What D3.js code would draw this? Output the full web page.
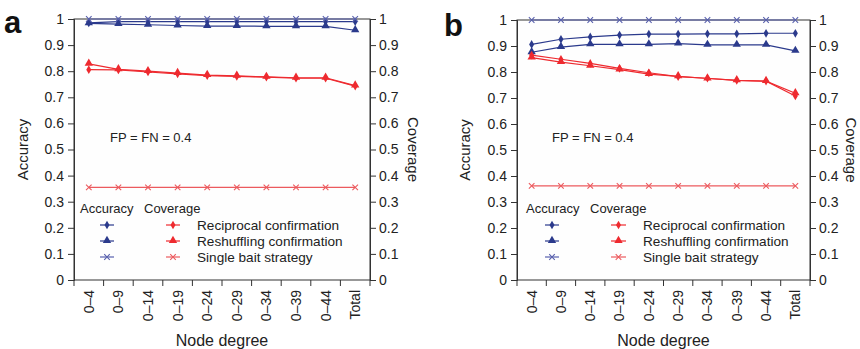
<!DOCTYPE html>
<html>
<head>
<meta charset="utf-8">
<script src="https://cdn.jsdelivr.net/npm/d3@7"></script>
<style>
  body { margin: 0; background: #fff; }
  svg { display: block; font-family: "Liberation Sans", Arial, Helvetica, sans-serif; }
</style>
</head>
<body>
<svg id="chart" width="860" height="349"></svg>
<script>
// ---- Data ----
const categories = ["0\u20134", "0\u20139", "0\u201314", "0\u201319", "0\u201324", "0\u201329", "0\u201334", "0\u201339", "0\u201344", "Total"];
const yTicks = [0, 0.1, 0.2, 0.3, 0.4, 0.5, 0.6, 0.7, 0.8, 0.9, 1];
const yTickLabels = ["0", "0.1", "0.2", "0.3", "0.4", "0.5", "0.6", "0.7", "0.8", "0.9", "1"];

// Panel a
const aAccReciprocal = [0.985, 0.990, 0.990, 0.990, 0.990, 0.990, 0.990, 0.990, 0.990, 0.990];
const aAccReshuffling = [0.983, 0.980, 0.978, 0.975, 0.973, 0.973, 0.972, 0.972, 0.972, 0.957];
const aAccSingle = [1, 1, 1, 1, 1, 1, 1, 1, 1, 1];
const aCovReciprocal = [0.806, 0.805, 0.797, 0.790, 0.783, 0.780, 0.777, 0.773, 0.773, 0.743];
const aCovReshuffling = [0.828, 0.807, 0.800, 0.793, 0.785, 0.782, 0.778, 0.775, 0.775, 0.745];
const aCovSingle = [0.355, 0.355, 0.355, 0.355, 0.355, 0.355, 0.355, 0.355, 0.355, 0.355];

// Panel b
const bAccReciprocal = [0.906, 0.926, 0.935, 0.942, 0.946, 0.946, 0.947, 0.947, 0.949, 0.949];
const bAccReshuffling = [0.876, 0.896, 0.906, 0.906, 0.906, 0.909, 0.904, 0.904, 0.904, 0.881];
const bAccSingle = [1, 1, 1, 1, 1, 1, 1, 1, 1, 1];
const bCovReciprocal = [0.865, 0.849, 0.833, 0.814, 0.797, 0.782, 0.776, 0.768, 0.765, 0.708];
const bCovReshuffling = [0.855, 0.838, 0.824, 0.809, 0.792, 0.783, 0.775, 0.768, 0.765, 0.718];
const bCovSingle = [0.362, 0.362, 0.362, 0.362, 0.362, 0.362, 0.362, 0.362, 0.362, 0.362];

const legendLabels = ["Reciprocal confirmation", "Reshuffling confirmation", "Single bait strategy"];
const annotation = "FP = FN = 0.4";

// ---- Styles ----
const BLUE = "#2b3a8c", BLUE_LIGHT = "#5860ad";
const RED = "#ee2a2f", RED_LIGHT = "#ec5a5e";
const AXIS = "#333";

const svg = d3.select("#chart");

const panels = [
  { label: "a", x0: 74, x1: 370, y0: 280, y1: 19,
    acc: [aAccReciprocal, aAccReshuffling, aAccSingle],
    cov: [aCovReciprocal, aCovReshuffling, aCovSingle],
    labelX: 4, labelY: 33, annX: 110, annY: 142,
    legAccX: 80, legCovX: 144, legBlue: [100, 114], legRed: [166, 180], legTextX: 197,
    yTitleX: 23, rTitleX: 413 },
  { label: "b", x0: 517, x1: 810, y0: 280, y1: 20,
    acc: [bAccReciprocal, bAccReshuffling, bAccSingle],
    cov: [bCovReciprocal, bCovReshuffling, bCovSingle],
    labelX: 444, labelY: 36, annX: 552, annY: 142,
    legAccX: 526, legCovX: 590, legBlue: [545, 559], legRed: [611, 626], legTextX: 643,
    yTitleX: 465, rTitleX: 851 }
];

function drawMarker(g, type, x, y, color) {
  if (type === 0) {
    g.append("path").attr("d", d3.symbol(d3.symbolDiamond, 22)())
      .attr("transform", `translate(${x},${y})`).attr("fill", color);
  } else if (type === 1) {
    g.append("path").attr("d", d3.symbol(d3.symbolTriangle, 30)())
      .attr("transform", `translate(${x},${y - 0.5})`).attr("fill", color);
  } else {
    g.append("path").attr("d", d3.symbol(d3.symbolX, 22)())
      .attr("transform", `translate(${x},${y})`).attr("fill", "none")
      .attr("stroke", color).attr("stroke-width", 1.1);
  }
}

panels.forEach(p => {
  const g = svg.append("g");
  const x = d3.scaleBand().domain(categories).range([p.x0, p.x1]).padding(0);
  const y = d3.scaleLinear().domain([0, 1]).range([p.y0, p.y1]);
  const cx = c => x(c) + x.bandwidth() / 2;

  // frame
  g.append("rect").attr("x", p.x0).attr("y", p.y1).attr("width", p.x1 - p.x0).attr("height", p.y0 - p.y1)
    .attr("fill", "#fefefe").attr("stroke", AXIS).attr("stroke-width", 1);

  // left axis
  const left = g.append("g").attr("transform", `translate(${p.x0},0)`)
    .call(d3.axisLeft(y).tickValues(yTicks).tickFormat((d, i) => yTickLabels[i]).tickSize(6).tickPadding(4));
  left.select(".domain").attr("stroke", AXIS);
  left.selectAll("line").attr("stroke", AXIS);
  left.selectAll("text").attr("font-size", 14).attr("fill", "#222")
    .attr("font-family", "Liberation Sans, Arial, sans-serif");

  // right axis
  const right = g.append("g").attr("transform", `translate(${p.x1},0)`)
    .call(d3.axisRight(y).tickValues(yTicks).tickFormat((d, i) => yTickLabels[i]).tickSize(6).tickPadding(3));
  right.select(".domain").attr("stroke", AXIS);
  right.selectAll("line").attr("stroke", AXIS);
  right.selectAll("text").attr("font-size", 14).attr("fill", "#222")
    .attr("font-family", "Liberation Sans, Arial, sans-serif");

  // bottom ticks at band edges
  const edges = categories.map(c => x(c)).concat([p.x1]);
  g.selectAll(".xt").data(edges).enter().append("line")
    .attr("x1", d => d).attr("x2", d => d).attr("y1", p.y0).attr("y2", p.y0 + 6)
    .attr("stroke", AXIS);
  g.selectAll(".xl").data(categories).enter().append("text")
    .attr("transform", d => `translate(${cx(d)},${p.y0 + 10}) rotate(-90)`)
    .attr("text-anchor", "end").attr("dy", "0.35em")
    .attr("font-size", 14).attr("fill", "#222").text(d => d);

  // titles
  g.append("text").attr("transform", `translate(${p.yTitleX},${(p.y0 + p.y1) / 2}) rotate(-90)`)
    .attr("text-anchor", "middle").attr("dy", "0.35em").attr("font-size", 15).attr("fill", "#222").text("Accuracy");
  g.append("text").attr("transform", `translate(${p.rTitleX},${(p.y0 + p.y1) / 2}) rotate(90)`)
    .attr("text-anchor", "middle").attr("dy", "0.35em").attr("font-size", 15).attr("fill", "#222").text("Coverage");
  g.append("text").attr("x", (p.x0 + p.x1) / 2).attr("y", 346)
    .attr("text-anchor", "middle").attr("font-size", 16).attr("fill", "#222").text("Node degree");

  // panel label
  g.append("text").attr("x", p.labelX).attr("y", p.labelY)
    .attr("font-size", 31).attr("font-weight", "bold").attr("fill", "#111").text(p.label);

  // annotation
  g.append("text").attr("x", p.annX).attr("y", p.annY)
    .attr("font-size", 13).attr("fill", "#222").text(annotation);

  // series
  const line = d3.line().x((d, i) => cx(categories[i])).y(d => y(d));
  const series = [];
  p.acc.forEach((vals, k) => series.push({ vals, type: k, color: k === 2 ? BLUE_LIGHT : BLUE }));
  p.cov.forEach((vals, k) => series.push({ vals, type: k, color: k === 2 ? RED_LIGHT : RED }));
  series.forEach(s => {
    g.append("path").attr("d", line(s.vals)).attr("fill", "none")
      .attr("stroke", s.color).attr("stroke-width", 1.2);
    s.vals.forEach((v, i) => drawMarker(g, s.type, cx(categories[i]), y(v), s.color));
  });

  // legend
  g.append("text").attr("x", p.legAccX).attr("y", 213).attr("font-size", 13).attr("fill", "#222").text("Accuracy");
  g.append("text").attr("x", p.legCovX).attr("y", 213).attr("font-size", 13).attr("fill", "#222").text("Coverage");
  const rowY = [225, 241, 257];
  legendLabels.forEach((lab, k) => {
    const yy = rowY[k];
    const bc = k === 2 ? BLUE_LIGHT : BLUE, rc = k === 2 ? RED_LIGHT : RED;
    g.append("line").attr("x1", p.legBlue[0]).attr("x2", p.legBlue[1]).attr("y1", yy).attr("y2", yy)
      .attr("stroke", bc).attr("stroke-width", 1.2);
    drawMarker(g, k, (p.legBlue[0] + p.legBlue[1]) / 2, yy, bc);
    g.append("line").attr("x1", p.legRed[0]).attr("x2", p.legRed[1]).attr("y1", yy).attr("y2", yy)
      .attr("stroke", rc).attr("stroke-width", 1.2);
    drawMarker(g, k, (p.legRed[0] + p.legRed[1]) / 2, yy, rc);
    g.append("text").attr("x", p.legTextX).attr("y", yy).attr("dy", "0.35em")
      .attr("font-size", 13.6).attr("fill", "#222").text(lab);
  });
});
</script>
</body>
</html>
